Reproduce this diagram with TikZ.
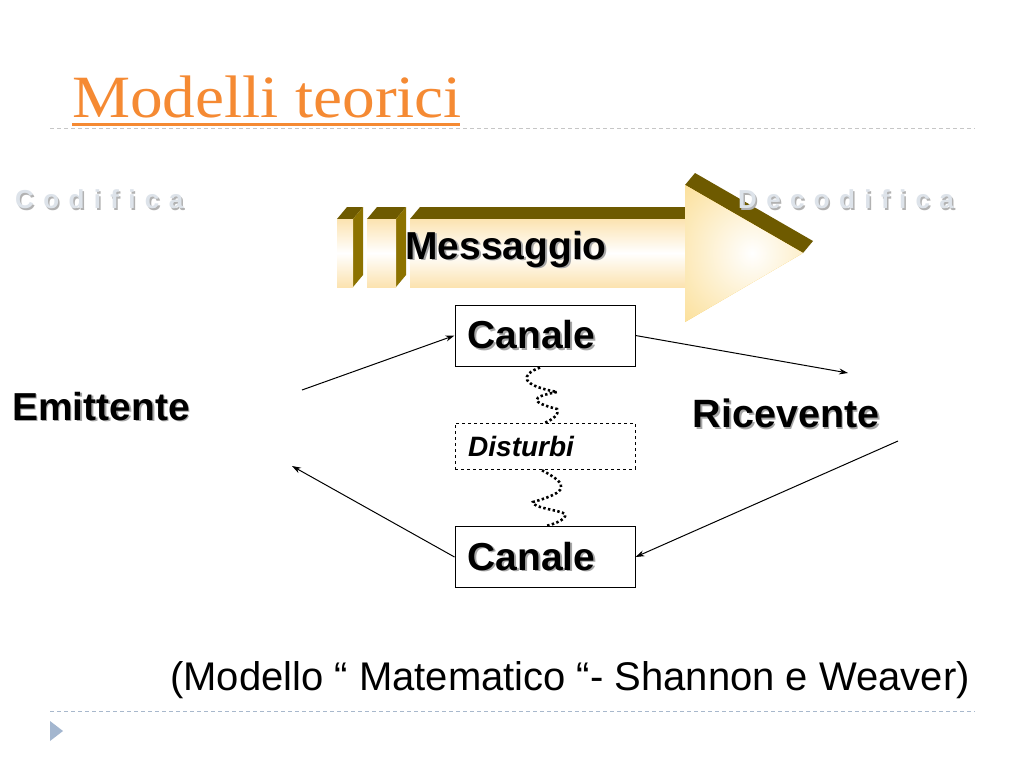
\documentclass[tikz,border=0pt]{standalone}
\usepackage{fontspec}
\setmainfont{Liberation Sans}
\newfontfamily\titlefont{Liberation Serif}
\newfontfamily\spacedfont[LetterSpace=36]{Liberation Sans}
\usetikzlibrary{arrows.meta}
\definecolor{ttl}{HTML}{F58A33}
\definecolor{olivetop}{HTML}{6E5A00}
\definecolor{oliveside}{HTML}{8C7200}
\definecolor{gold}{HTML}{F8C440}
\definecolor{cream}{HTML}{FCE3B0}
\definecolor{codc}{HTML}{DDE3EA}
\definecolor{rulec}{HTML}{A8B8CC}
\definecolor{tric}{HTML}{A3B6CF}
\newcommand\shad[1]{\leavevmode\rlap{\kern1.8pt\raisebox{-1.8pt}{\color{black!35}#1}}#1}
\newcommand\shadlight[1]{\leavevmode\rlap{\kern1.5pt\raisebox{-1.5pt}{\color{black!30}#1}}{\color{codc}#1}}
\tikzset{
  canalebox/.style={draw, line width=1pt, minimum width=180pt, minimum height=61pt, inner sep=0pt,
    font=\fontsize{39}{40}\selectfont\bfseries},
  distbox/.style={draw, dashed, line width=0.6pt, minimum width=180pt, minimum height=46pt, inner sep=0pt},
  biglabel/.style={inner sep=0pt, font=\fontsize{37}{40}\selectfont\bfseries},
  conn/.style={line width=1pt, -{Stealth[length=9pt,width=6pt]}},
  wave/.style={line width=2.6pt, dash pattern=on 2.4pt off 2.4pt},
  topface/.style={fill=olivetop},
  sideface/.style={fill=oliveside},
  creamface/.style={top color=cream, bottom color=cream, middle color=white},
}
\begin{document}
\begin{tikzpicture}[x=1pt,y=-1pt]
\useasboundingbox[fill=white] (0,0) rectangle (1024,768);

% title
\node[anchor=base west, inner sep=0pt, text=ttl] (title) at (72,117)
  {\titlefont\fontsize{60}{62}\selectfont\scalebox{1.088}[1]{Modelli teorici}};
\draw[ttl, line width=3pt] (72,124.5) -- (460,124.5);
\draw[gray!45, line width=1pt, dash pattern=on 4pt off 3pt] (50,128.5) -- (975,128.5);

% codifica
\node[anchor=west, inner sep=0pt, font=\spacedfont\fontsize{26}{28}\selectfont\bfseries] (cod) at (15,200) {\shadlight{Codifica}};

% arrow (3D block arrow)
\fill[topface] (410,219) -- (420,207) -- (695,207) -- (695,219) -- cycle;
\fill[topface] (685,185) -- (695,173) -- (813,241) -- (803,253) -- cycle;
\shade[creamface] (410,219) rectangle (686,287);
\begin{scope}
  \clip (685,185) -- (803,253) -- (685,322) -- cycle;
  \fill[gold] (685,185) rectangle (803,322);
  \shade[inner color=white, outer color=gold] (752,253) circle (185pt);
\end{scope}
% small blocks
\fill[topface] (337,219) -- (347,207) -- (363,207) -- (353,219) -- cycle;
\fill[sideface] (353,219) -- (363,207) -- (363,275) -- (353,287) -- cycle;
\shade[creamface] (337,219) rectangle (353,287);
\fill[topface] (367,219) -- (377,207) -- (406,207) -- (396,219) -- cycle;
\fill[sideface] (396,219) -- (406,207) -- (406,275) -- (396,287) -- cycle;
\shade[creamface] (367,219) rectangle (396,287);

\node[anchor=west, inner sep=0pt, font=\spacedfont\fontsize{26}{28}\selectfont\bfseries] (decod) at (738,200) {\shadlight{Decodifica}};

\node[biglabel, anchor=center, font=\fontsize{39}{40}\selectfont\bfseries] (msg) at (506,250) {\shad{Messaggio}};

% channels
\node[canalebox] (c1) at (545,335.5) {\shad{Canale}\kern27pt};
\node[distbox] (dist) at (545,446) {};
\node[anchor=west, inner sep=0pt, font=\fontsize{28}{30}\selectfont\bfseries\itshape] (distt) at (468,446) {Disturbi};
\node[canalebox] (c2) at (545,557) {\shad{Canale}\kern27pt};

\node[biglabel, font=\fontsize{39}{40}\selectfont\bfseries] (emit) at (101,407) {\shad{Emittente}};
\node[biglabel, font=\fontsize{39.5}{40}\selectfont\bfseries] (ric) at (786,414) {\shad{Ricevente}};

% noise waves
\draw[wave] (c1.south) ++(-5,1) .. controls (520,375) and (520,385) .. (557,392)
  .. controls (530,397) and (530,402) .. (557,409)
  .. controls (560,414) and (552,420) .. (dist.north);
\draw[wave] (dist.south) ++(-3,1) .. controls (570,485) and (568,492) .. (533,502)
  .. controls (532,508) and (560,510) .. (565,514)
  .. controls (568,520) and (548,526) .. (c2.north);

% connectors
\coordinate (e1) at (302,390);
\coordinate (r1) at (848,373);
\coordinate (r2) at (898,441);
\coordinate (e2) at (292,466);
\draw[conn] (e1) -- (c1.west);
\draw[conn] (c1.east) -- (r1);
\draw[conn] (r2) -- (c2.east);
\draw[conn] (c2.west) -- (e2);

% caption
\node[inner sep=0pt, font=\fontsize{40}{42}\selectfont] (cap) at (570,680) {(Modello “ Matematico “- Shannon e Weaver)};

% footer
\draw[rulec, line width=1pt, dash pattern=on 4pt off 3pt] (50,711.5) -- (975,711.5);
\fill[tric] (50,721) -- (63,731) -- (50,741) -- cycle;
\end{tikzpicture}
\end{document}
